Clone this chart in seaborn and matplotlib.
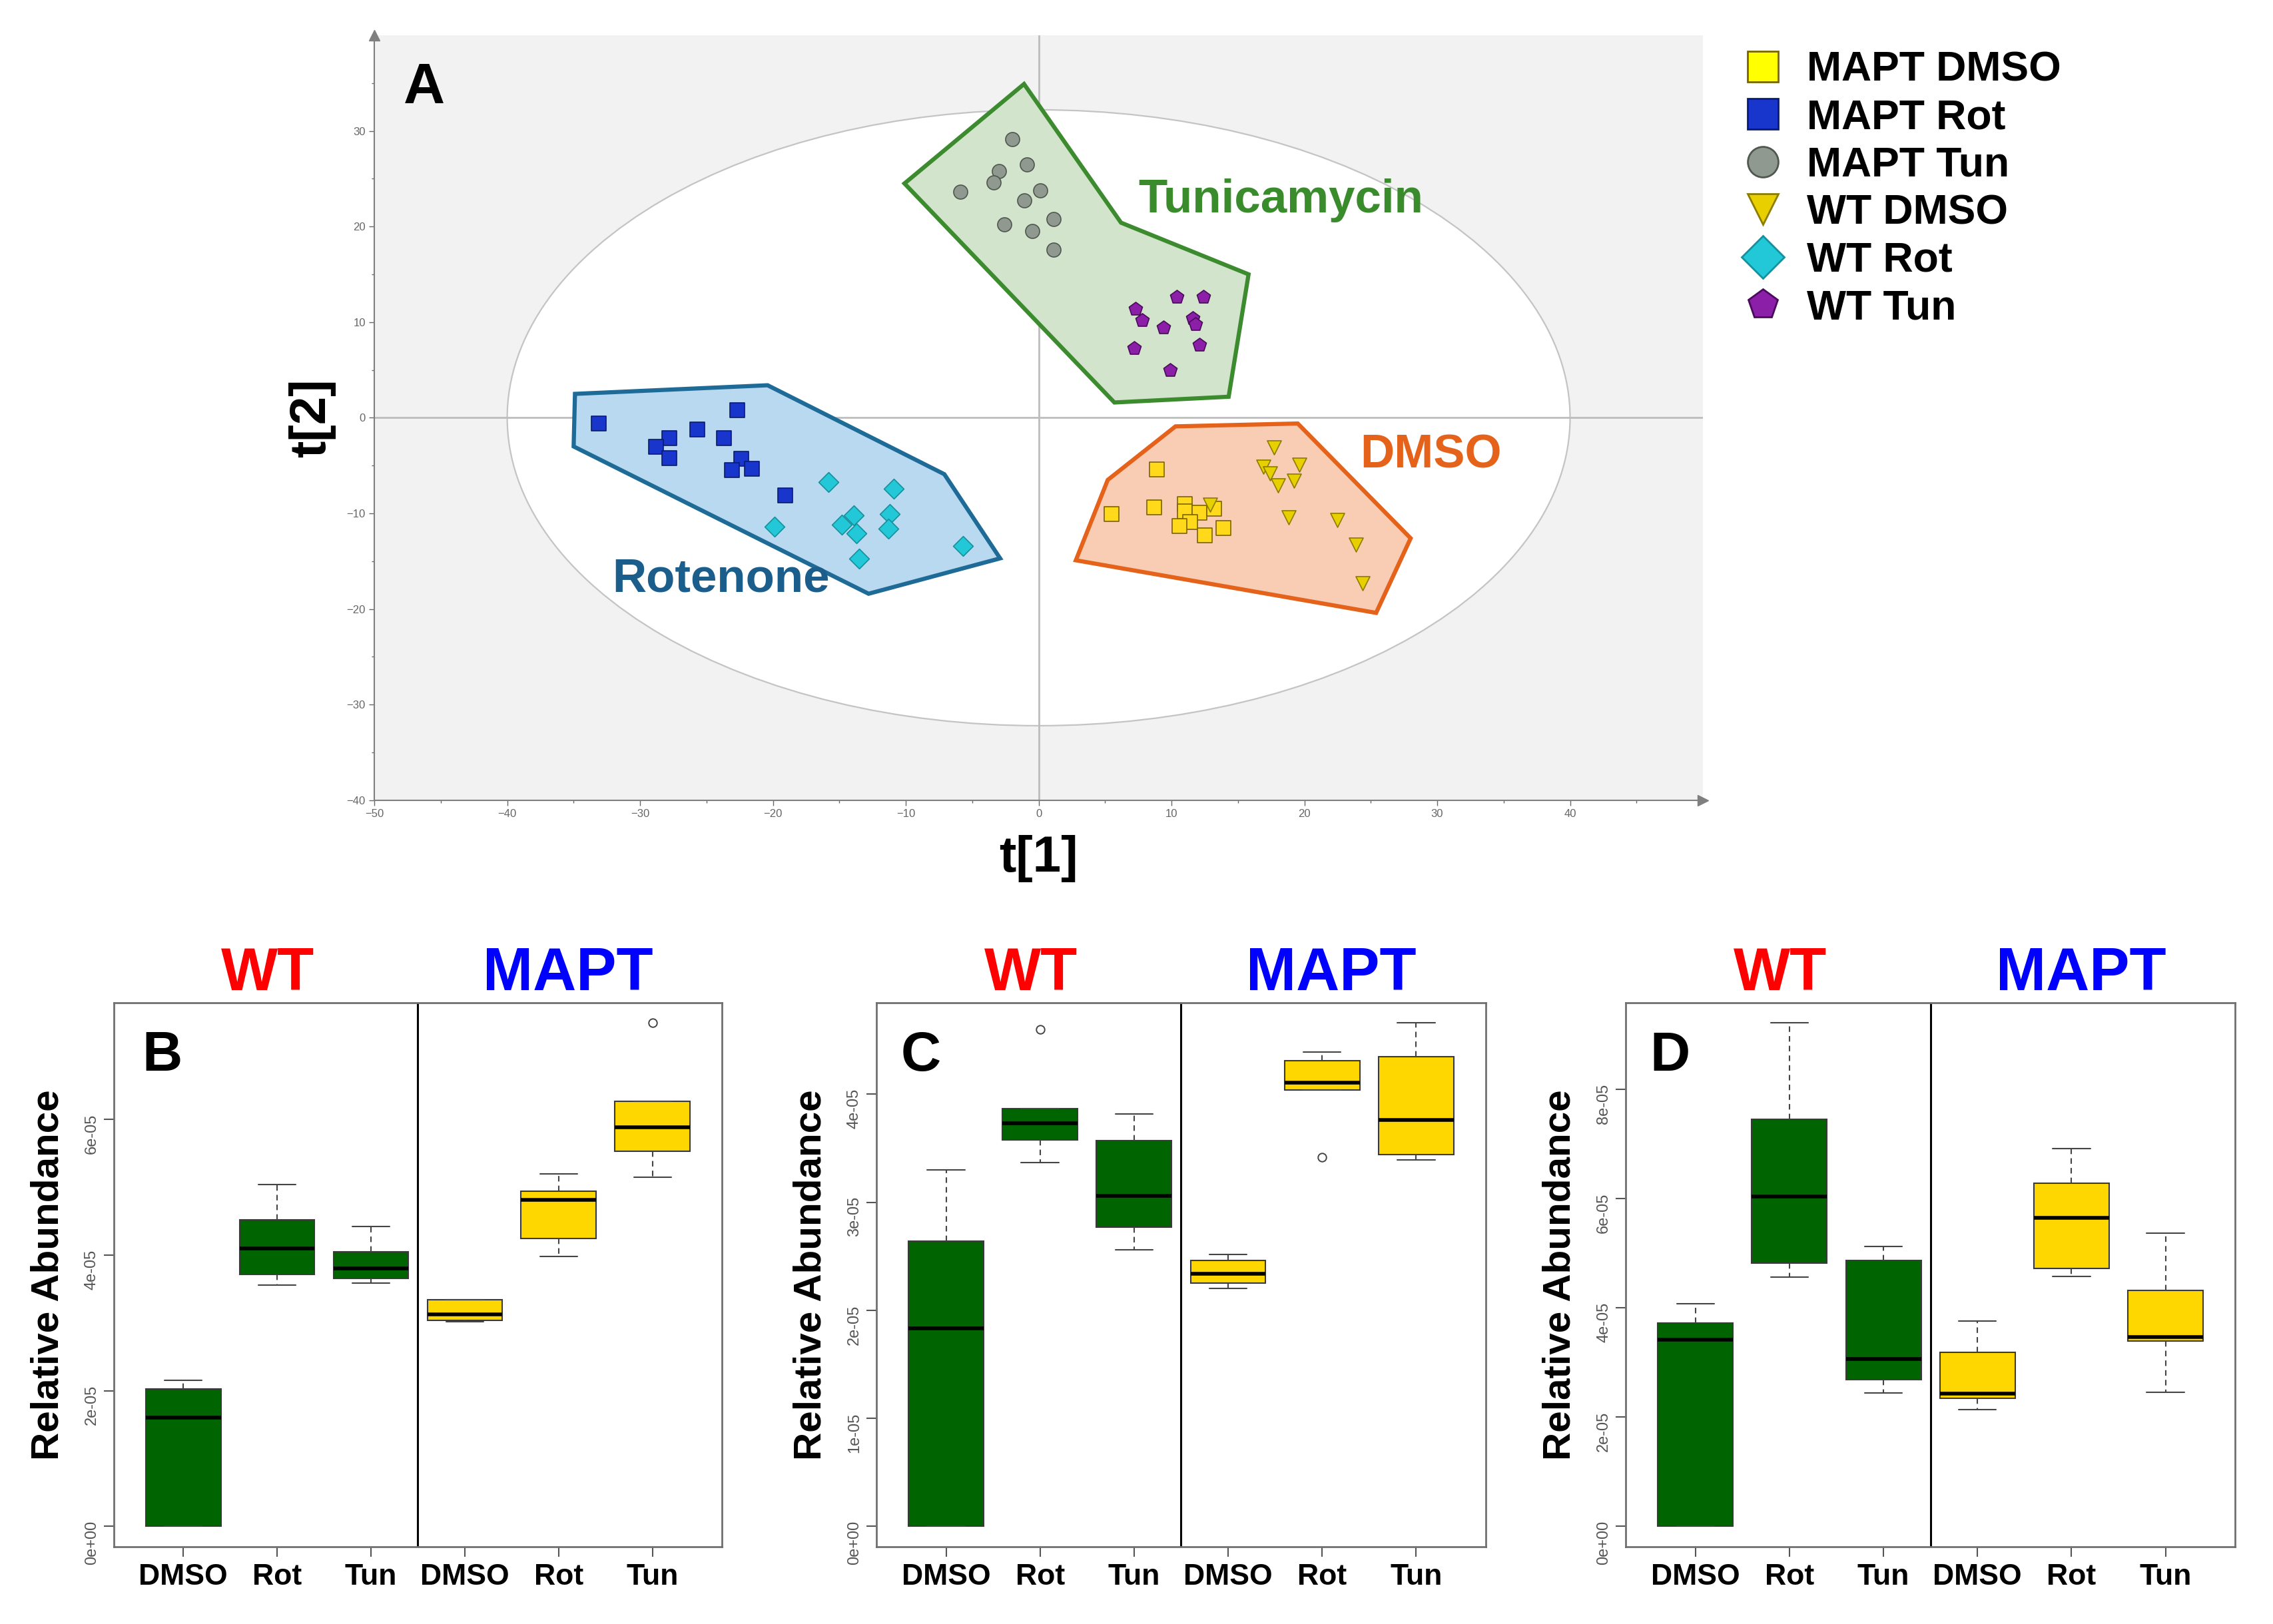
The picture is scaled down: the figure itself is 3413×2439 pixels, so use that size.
import matplotlib
matplotlib.use("Agg")
import matplotlib.pyplot as plt
from matplotlib.lines import Line2D
from matplotlib.patches import Ellipse
from matplotlib.ticker import MultipleLocator
import numpy as np
import seaborn as sns

# ---- panel A: PCA scores (t[1], t[2]) ----
MAPT_DMSO_T1 = [8.9, 5.5, 8.7, 11.0, 11.0, 12.1, 13.2, 11.4, 10.6, 12.5, 13.9]
MAPT_DMSO_T2 = [-5.4, -10.1, -9.4, -9.0, -9.8, -9.9, -9.5, -10.9, -11.3, -12.3, -11.5]
MAPT_ROT_T1 = [-33.1, -22.7, -25.7, -27.8, -23.7, -28.8, -27.8, -22.4, -23.1, -21.6, -19.1]
MAPT_ROT_T2 = [-0.6, 0.8, -1.2, -2.1, -2.1, -3.0, -4.2, -4.3, -5.5, -5.3, -8.1]
MAPT_TUN_T1 = [-2.0, -0.9, -3.0, -3.4, 0.1, -5.9, -1.1, 1.1, -2.6, -0.5, 1.1]
MAPT_TUN_T2 = [29.1, 26.5, 25.8, 24.6, 23.8, 23.6, 22.7, 20.8, 20.2, 19.5, 17.6]
WT_DMSO_T1 = [17.7, 16.9, 19.6, 17.4, 18.0, 19.2, 18.8, 22.5, 23.9, 24.4, 12.9]
WT_DMSO_T2 = [-3.1, -5.1, -4.9, -5.8, -7.1, -6.6, -10.4, -10.7, -13.3, -17.3, -9.1]
WT_ROT_T1 = [-15.8, -10.9, -19.9, -14.8, -13.9, -13.7, -11.2, -11.3, -13.5, -5.7]
WT_ROT_T2 = [-6.7, -7.4, -11.4, -11.2, -10.2, -12.1, -10.1, -11.6, -14.7, -13.4]
WT_TUN_T1 = [7.3, 10.4, 12.4, 7.8, 11.6, 11.8, 9.4, 7.2, 12.1, 9.9]
WT_TUN_T2 = [11.4, 12.6, 12.6, 10.2, 10.4, 9.8, 9.4, 7.3, 7.6, 5.0]

# cluster outlines
TUN_HULL_T1 = [-1.1, 6.2, 15.8, 14.3, 5.7, -10.1]
TUN_HULL_T2 = [34.9, 20.4, 15.0, 2.2, 1.6, 24.5]
ROT_HULL_T1 = [-34.9, -20.4, -7.1, -2.9, -12.8, -35.0]
ROT_HULL_T2 = [2.5, 3.4, -5.9, -14.7, -18.4, -3.0]
DMSO_HULL_T1 = [10.3, 19.5, 28.0, 25.4, 2.8, 5.2]
DMSO_HULL_T2 = [-0.9, -0.6, -12.6, -20.4, -14.9, -6.5]

X_TICKS = [-50, -40, -30, -20, -10, 0, 10, 20, 30, 40]
Y_TICKS = [-40, -30, -20, -10, 0, 10, 20, 30]

# ---- panels B-D: box plot summaries (units of 1e-05) ----
GROUPS = ["DMSO", "Rot", "Tun", "DMSO", "Rot", "Tun"]

B_LOW = [0.00, 3.56, 3.59, 3.02, 3.98, 5.15]
B_Q1 = [0.00, 3.71, 3.65, 3.04, 4.24, 5.53]
B_MED = [1.60, 4.10, 3.80, 3.12, 4.81, 5.88]
B_Q3 = [2.03, 4.52, 4.05, 3.34, 4.94, 6.27]
B_HIGH = [2.15, 5.04, 4.42, 3.34, 5.20, 6.27]
B_OUT = [[], [], [], [], [], [7.42]]
B_YTICKS = [0, 2, 4, 6]

C_LOW = [0.00, 3.37, 2.56, 2.20, 4.04, 3.39]
C_Q1 = [0.00, 3.58, 2.77, 2.25, 4.04, 3.44]
C_MED = [1.83, 3.73, 3.06, 2.34, 4.11, 3.76]
C_Q3 = [2.64, 3.87, 3.57, 2.46, 4.31, 4.35]
C_HIGH = [3.30, 3.87, 3.82, 2.52, 4.39, 4.66]
C_OUT = [[], [4.60], [], [], [3.42], []]
C_YTICKS = [0, 1, 2, 3, 4]

D_LOW = [0.00, 4.57, 2.45, 2.14, 4.58, 2.46]
D_Q1 = [0.00, 4.82, 2.69, 2.35, 4.73, 3.39]
D_MED = [3.42, 6.04, 3.06, 2.43, 5.65, 3.47]
D_Q3 = [3.73, 7.45, 4.87, 3.19, 6.28, 4.32]
D_HIGH = [4.08, 9.22, 5.13, 3.76, 6.92, 5.37]
D_OUT = [[], [], [], [], [], []]
D_YTICKS = [0, 2, 4, 6, 8]

SCALE = 1e-5

sns.set_theme(style="ticks")
plt.rcParams['font.family'] = ['Liberation Sans', 'DejaVu Sans']
plt.rcParams['text.color'] = 'black'
plt.rcParams['axes.labelcolor'] = 'black'
plt.rcParams['xtick.color'] = 'black'
plt.rcParams['ytick.color'] = 'black'

fig = plt.figure(figsize=(34.13, 24.39), dpi=100)
fig.patch.set_facecolor("white")

# ================= panel A =================
ax = fig.add_axes([0.1647, 0.5072, 0.5845, 0.4711])
ax.set_facecolor("#f2f2f2")
ax.add_patch(Ellipse((0, 0), 80, 64.4, facecolor="white", edgecolor="#c4c4c4", lw=1.6, zorder=0.5))
ax.axhline(0, color="#bdbdbd", lw=2, zorder=0.6)
ax.axvline(0, color="#bdbdbd", lw=2, zorder=0.6)

ax.fill(TUN_HULL_T1, TUN_HULL_T2, facecolor="#d3e4cc", edgecolor="#3c8b2f", lw=4.5, zorder=1)
ax.fill(ROT_HULL_T1, ROT_HULL_T2, facecolor="#b9d9f0", edgecolor="#1f6b98", lw=4.5, zorder=1)
ax.fill(DMSO_HULL_T1, DMSO_HULL_T2, facecolor="#f8cdb3", edgecolor="#e5621b", lw=4.5, zorder=1)

series = [
    ("MAPT DMSO", MAPT_DMSO_T1, MAPT_DMSO_T2, "s", "#ffd91a", "#7a6400"),
    ("MAPT Rot", MAPT_ROT_T1, MAPT_ROT_T2, "s", "#1936cc", "#0a1a70"),
    ("MAPT Tun", MAPT_TUN_T1, MAPT_TUN_T2, "o", "#8f998f", "#4f574f"),
    ("WT DMSO", WT_DMSO_T1, WT_DMSO_T2, "v", "#e8d000", "#8c7c00"),
    ("WT Rot", WT_ROT_T1, WT_ROT_T2, "D", "#22c8d8", "#15909c"),
    ("WT Tun", WT_TUN_T1, WT_TUN_T2, "p", "#8b1fa8", "#4b0a5c"),
]
for name, xs, ys, mk, fc, ec in series:
    sns.scatterplot(x=xs, y=ys, ax=ax, marker=mk, s=230, color=fc,
                    edgecolor=ec, linewidth=1.2, zorder=3)

ax.text(7.5, 22.7, "Tunicamycin", color="#3a8b2c", fontsize=51, fontweight="bold",
        ha="left", va="center", zorder=4)
ax.text(24.2, -4.0, "DMSO", color="#e5621b", fontsize=51, fontweight="bold",
        ha="left", va="center", zorder=4)
ax.text(-32.1, -16.9, "Rotenone", color="#1b5e8c", fontsize=51, fontweight="bold",
        ha="left", va="center", zorder=4)

ax.set_xlim(-50, 50)
ax.set_ylim(-40, 40)
ax.set_xticks(X_TICKS)
ax.set_yticks(Y_TICKS)
ax.xaxis.set_minor_locator(MultipleLocator(5))
ax.yaxis.set_minor_locator(MultipleLocator(5))
ax.tick_params(which="major", labelsize=12, colors="#666666", length=6, width=1)
ax.tick_params(which="minor", colors="#666666", length=3, width=1)
for side in ["top", "right"]:
    ax.spines[side].set_visible(False)
for side in ["left", "bottom"]:
    ax.spines[side].set_color("#7f7f7f")
    ax.spines[side].set_linewidth(1.5)
ax.plot([1], [0], marker=">", color="#7f7f7f", ms=11, transform=ax.transAxes, clip_on=False)
ax.plot([0], [1], marker="^", color="#7f7f7f", ms=11, transform=ax.transAxes, clip_on=False)

ax.set_xlabel("t[1]", fontsize=55, fontweight="bold")
ax.set_ylabel("t[2]", fontsize=55, fontweight="bold")
ax.xaxis.set_label_coords(0.5, -0.045)
ax.yaxis.set_label_coords(-0.029, 0.5)
ax.text(0.022, 0.965, "A", transform=ax.transAxes, fontsize=62, fontweight="bold",
        ha="left", va="top", zorder=5)

handles = [Line2D([], [], linestyle="none", marker=mk, markersize=33,
                  markerfacecolor=fc, markeredgecolor=ec, markeredgewidth=2, label=name)
           for name, xs, ys, mk, fc, ec in series]
handles[0].set_markerfacecolor("#ffff00")
fig.legend(handles=handles, loc="upper left", bbox_to_anchor=(0.7665, 0.969),
           frameon=False, prop={"weight": "bold", "size": 45},
           handlelength=1.0, handletextpad=0.55, labelspacing=0.2,
           borderpad=0, borderaxespad=0)


# ================= panels B-D =================
def box_panel(rect, letter, letter_x, low, q1, med, q3, high, outs, yticks):
    bx = fig.add_axes(rect)
    stats = []
    for i in range(len(GROUPS)):
        stats.append({"whislo": low[i] * SCALE, "q1": q1[i] * SCALE, "med": med[i] * SCALE,
                      "q3": q3[i] * SCALE, "whishi": high[i] * SCALE,
                      "fliers": [v * SCALE for v in outs[i]]})
    parts = bx.bxp(stats, positions=range(1, 7), widths=0.8, capwidths=0.4,
                   patch_artist=True, showfliers=True,
                   boxprops=dict(edgecolor="#3a3a3a", linewidth=1.5),
                   whiskerprops=dict(color="#444444", linewidth=1.5, linestyle=(0, (4, 3))),
                   capprops=dict(color="#444444", linewidth=1.5),
                   medianprops=dict(color="black", linewidth=4),
                   flierprops=dict(marker="o", markerfacecolor="none",
                                   markeredgecolor="#444444", markersize=9, markeredgewidth=1.4))
    for i, patch in enumerate(parts["boxes"]):
        patch.set_facecolor("#006400" if i < 3 else "#ffd700")

    allv = low + high + [v for o in outs for v in o]
    lo, hi = min(allv), max(allv)
    pad = 0.04 * (hi - lo)
    bx.set_ylim((lo - pad) * SCALE, (hi + pad) * SCALE)
    bx.set_xlim(0.26, 6.74)
    bx.axvline(3.5, color="black", lw=2.2)

    bx.set_yticks([t * SCALE for t in yticks])
    bx.set_yticklabels(["%de%s" % (t, "+00" if t == 0 else "-05") for t in yticks])
    bx.set_xticks(range(1, 7))
    bx.set_xticklabels(GROUPS, fontsize=32, fontweight="bold")
    bx.tick_params(axis="x", length=11, width=1.5, color="#555555", pad=7)
    bx.tick_params(axis="y", length=11, width=1.5, color="#555555", labelsize=17,
                   labelcolor="#555555", labelrotation=90, pad=5)
    for side in bx.spines.values():
        side.set_color("#707070")
        side.set_linewidth(2)
    bx.set_ylabel("Relative Abundance", fontsize=42, fontweight="bold")
    bx.yaxis.set_label_coords(-0.078, 0.5)

    bx.text(1.9, bx.get_ylim()[1], "WT", color="#ff0000", fontsize=65, fontweight="bold",
            ha="center", va="bottom")
    bx.text(5.1, bx.get_ylim()[1], "MAPT", color="#0000ff", fontsize=65, fontweight="bold",
            ha="center", va="bottom")
    bx.text(letter_x, 0.95, letter, transform=bx.transAxes, fontsize=60, fontweight="bold",
            ha="left", va="top")
    return bx


box_panel([0.0501, 0.0477, 0.2675, 0.3348], "B", 0.046, B_LOW, B_Q1, B_MED, B_Q3, B_HIGH, B_OUT, B_YTICKS)
box_panel([0.3856, 0.0477, 0.2680, 0.3348], "C", 0.040, C_LOW, C_Q1, C_MED, C_Q3, C_HIGH, C_OUT, C_YTICKS)
box_panel([0.7153, 0.0477, 0.2680, 0.3348], "D", 0.039, D_LOW, D_Q1, D_MED, D_Q3, D_HIGH, D_OUT, D_YTICKS)

fig.savefig("out.png", dpi=100)
